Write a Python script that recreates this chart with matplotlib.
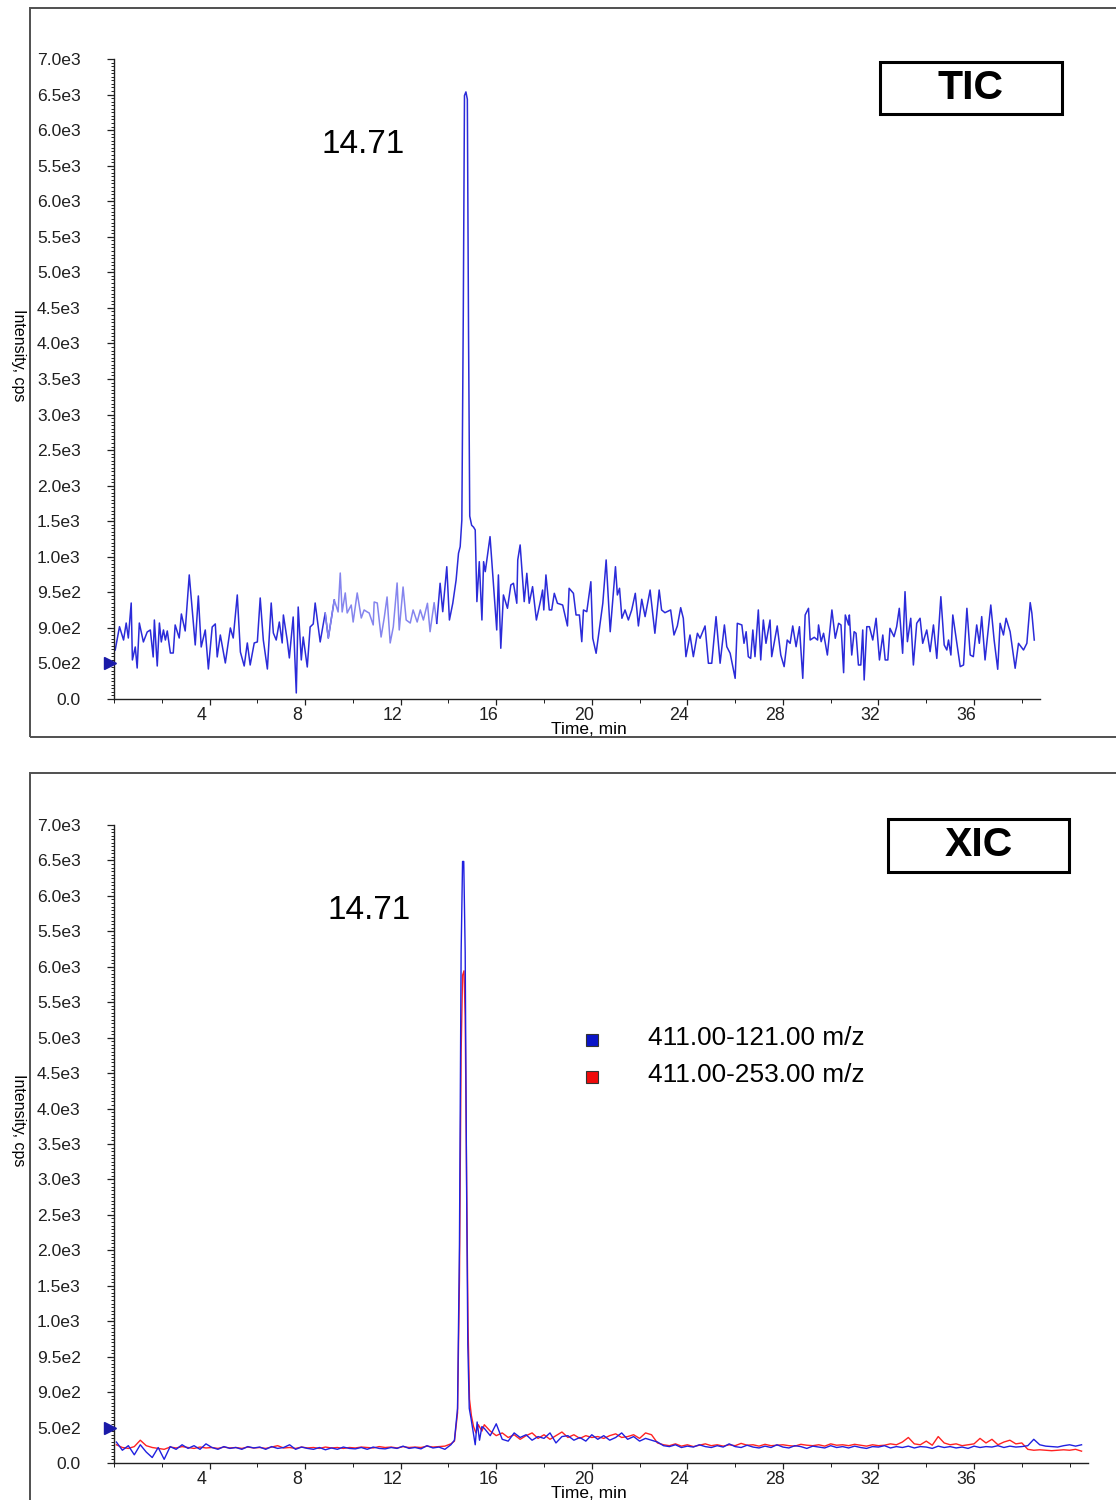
import matplotlib
matplotlib.use('Agg')
import matplotlib.pyplot as plt
import numpy as np
from matplotlib.patches import Rectangle
from matplotlib.ticker import MultipleLocator
from matplotlib.transforms import ScaledTranslation

plt.rcParams['font.family'] = ['Liberation Sans', 'DejaVu Sans']
NARROW = ['Liberation Sans Narrow', 'Liberation Sans', 'DejaVu Sans']

# y axis labels as printed on the instrument output (evenly spaced)
ytick_labels = ['0.0', '5.0e2', '9.0e2', '9.5e2', '1.0e3', '1.5e3', '2.0e3', '2.5e3',
                '3.0e3', '3.5e3', '4.0e3', '4.5e3', '5.0e3', '5.5e3', '6.0e3',
                '5.5e3', '6.0e3', '6.5e3', '7.0e3']
xticks = [4, 8, 12, 16, 20, 24, 28, 32, 36]
peak_rt = '14.71'
legend_labels = ['411.00-121.00 m/z', '411.00-253.00 m/z']

# ---- TIC trace (time, min / intensity in axis units)
tic_t = [0.05, 0.23, 0.40, 0.51, 0.60, 0.72, 0.77, 0.89, 0.97, 1.06,
         1.23, 1.39, 1.52, 1.64, 1.69, 1.81, 1.90, 1.98, 2.07, 2.15,
         2.23, 2.36, 2.48, 2.56, 2.73, 2.82, 2.98, 3.15, 3.40, 3.53,
         3.65, 3.82, 3.95, 4.11, 4.24, 4.32, 4.45, 4.66, 4.87, 4.99,
         5.16, 5.29, 5.45, 5.58, 5.70, 5.87, 6.00, 6.12, 6.25, 6.42,
         6.58, 6.67, 6.79, 6.92, 7.04, 7.09, 7.25, 7.34, 7.50, 7.63,
         7.71, 7.84, 7.92, 8.09, 8.21, 8.34, 8.42, 8.63, 8.84, 8.97,
         9.22, 9.38, 9.47, 9.55, 9.68, 9.76, 9.93, 10.01, 10.18, 10.35,
         10.47, 10.60, 10.68, 10.85, 10.89, 11.02, 11.18, 11.31, 11.43, 11.56,
         11.69, 11.85, 11.94, 12.10, 12.23, 12.40, 12.52, 12.69,
         12.82, 12.95, 13.12, 13.23, 13.40, 13.51, 13.65, 13.76, 13.93, 14.04,
         14.18, 14.32, 14.42, 14.49,
         14.56, 14.62, 14.67, 14.73, 14.79, 14.84, 14.89, 14.97, 15.05, 15.12,
         15.19, 15.29, 15.40, 15.47, 15.54, 15.74, 15.91, 16.02, 16.09, 16.19,
         16.30, 16.47, 16.61, 16.72, 16.86, 16.90, 17.00, 17.17, 17.28, 17.38,
         17.52, 17.68, 17.86, 17.94, 17.99, 18.08, 18.22, 18.32, 18.43, 18.56,
         18.78, 18.98, 19.05, 19.23, 19.34, 19.48, 19.58, 19.65, 19.79, 19.96,
         20.04, 20.18, 20.32, 20.46, 20.60, 20.77, 20.99, 21.07, 21.16, 21.26,
         21.39, 21.53, 21.67, 21.82, 21.95, 22.09, 22.23, 22.44, 22.64, 22.82,
         22.92, 23.06, 23.30, 23.44, 23.58, 23.72, 23.83, 23.94, 24.11, 24.25,
         24.42, 24.53, 24.74, 24.88, 25.02, 25.20, 25.37, 25.55, 25.65, 25.79,
         26.00,
         26.09, 26.28, 26.37, 26.46, 26.55, 26.65, 26.74, 26.83, 26.97, 27.07,
         27.18, 27.29, 27.46, 27.53, 27.76, 27.91, 28.05, 28.18, 28.30, 28.41,
         28.55, 28.69, 28.83, 28.93, 29.07, 29.14, 29.31, 29.45, 29.49, 29.60,
         29.70, 29.86, 30.05, 30.19, 30.33, 30.43, 30.54, 30.61, 30.75, 30.78,
         30.88, 30.98, 31.06, 31.16, 31.26, 31.34, 31.40, 31.51, 31.62, 31.76,
         31.90, 32.04, 32.18, 32.28, 32.39, 32.48, 32.65, 32.76, 32.87, 33.01,
         33.11, 33.21, 33.35, 33.46, 33.60, 33.74, 33.85, 34.02, 34.16, 34.30,
         34.44, 34.61, 34.75, 34.86, 34.93, 35.03, 35.11, 35.28, 35.42, 35.56,
         35.70, 35.84, 35.97, 36.11, 36.22, 36.32, 36.46, 36.70, 36.84, 36.99,
         37.09, 37.23, 37.34, 37.51, 37.72, 37.86, 38.07, 38.21, 38.35, 38.42,
         38.52]
tic_i = [536, 791, 645, 831, 667, 1050, 427, 569, 339, 831,
         624, 733, 755, 460, 864, 361, 831, 624, 755, 645,
         744, 503, 503, 810, 667, 930, 744, 1357, 591, 1127,
         569, 755, 328, 788, 821, 460, 700, 394, 777, 667,
         1138, 514, 361, 613, 372, 613, 624, 1105, 645, 328,
         1050, 722, 645, 842, 613, 919, 645, 449, 897, 66,
         1006, 427, 678, 350, 788, 821, 1050, 624, 941, 667,
         1083, 952, 1378, 952, 1160, 941, 1028, 842, 1160, 886,
         974, 952, 941, 810, 1061, 1050, 678, 886, 1116, 613,
         788, 1269, 755, 1225, 864, 831, 974, 842,
         974, 864, 1047, 736, 1054, 828, 1266, 955, 1447, 864,
         1047, 1302, 1594, 1666,
         1958, 4200, 6600, 6640, 6560, 4000, 2000, 1900, 1880, 1849,
         1065, 1502, 864, 1502, 1393, 1776, 1156, 755, 1357, 555,
         1138, 992, 1247, 1266, 1047, 1521, 1685, 1065, 1375, 1047,
         1229, 864, 1083, 1192, 974, 1357, 974, 974, 1156, 1047,
         1028, 799, 1211, 1156, 919, 919, 627, 974, 955, 1283,
         664, 500, 773, 1047, 1521, 736, 1447, 1138, 1211, 883,
         974, 864, 974, 1156, 799, 1091, 901, 1192, 719, 1192,
         974, 944, 974, 700, 799, 999, 883, 463, 700, 463,
         719, 664, 799, 391, 391, 901, 391, 810, 572, 500,
         226,
         828, 810, 609, 736, 463, 444, 755, 463, 974, 427,
         864, 609, 864, 463, 799, 481, 354, 645, 609, 799,
         572, 791, 226, 919, 992, 645, 675, 645, 810, 627,
         719, 481, 974, 664, 828, 810, 288, 919, 810, 919,
         481, 736, 719, 372, 372, 755, 208, 791, 791, 645,
         883, 427, 700, 427, 427, 773, 682, 791, 992, 500,
         1174, 627, 883, 372, 828, 883, 609, 755, 518, 810,
         444, 1119, 591, 536, 645, 481, 919, 609, 354, 372,
         992, 481, 463, 810, 609, 901, 427, 1028, 645, 325,
         828, 700, 883, 736, 336, 609, 536, 609, 1054, 938,
         645]
tic_light = (9.0, 13.45)   # part of the trace drawn in a paler blue

# ---- XIC traces: baseline before the peak, the peak itself, baseline after
scan_step = 0.25
pre_start, post_start = 0.1, 15.5
blue_pre = [230, 140, 190, 90, 200, 120, 60, 170, 40, 180,
            150, 200, 160, 190, 150, 210, 170, 150, 180, 160,
            170, 150, 180, 165, 175, 150, 180, 160, 170, 200,
            150, 175, 160, 150, 170, 145, 165, 150, 175, 160,
            155, 170, 150, 175, 160, 155, 170, 160, 185, 160,
            170, 155, 190, 165, 175, 150, 200]
red_pre = [200, 170, 160, 180, 250, 190, 170, 160, 150, 175,
           165, 180, 170, 160, 175, 165, 170, 160, 175, 165,
           170, 160, 175, 165, 170, 160, 175, 190, 165, 170,
           160, 175, 165, 170, 160, 175, 165, 170, 160, 170,
           165, 175, 170, 165, 180, 170, 175, 165, 180, 170,
           175, 170, 185, 175, 180, 185, 210]
blue_peak_t = [14.25, 14.38, 14.46, 14.53, 14.59, 14.64, 14.70, 14.76, 14.81, 14.87,
               14.95, 15.04, 15.12, 15.20, 15.30, 15.40]
blue_peak_i = [250, 600, 2400, 5600, 6600, 6600, 5600, 3000, 1300, 600,
               480, 330, 200, 450, 250, 400]
red_peak_t = [14.25, 14.38, 14.46, 14.53, 14.59, 14.65, 14.70, 14.76, 14.82, 14.88,
              14.96, 15.05, 15.15, 15.25, 15.40]
red_peak_i = [240, 550, 2000, 4500, 5350, 5400, 4900, 3100, 1500, 700,
              520, 400, 330, 420, 350]
blue_post = [380, 300, 430, 260, 240, 330, 280, 310, 250, 290,
             270, 330, 220, 290, 300, 250, 280, 240, 310, 260,
             300, 250, 280, 330, 260, 290, 240, 270, 250, 230,
             190, 180, 200, 170, 185, 175, 200, 180, 170, 190,
             175, 210, 180, 170, 195, 175, 165, 185, 170, 200,
             175, 165, 190, 180, 160, 185, 175, 165, 190, 170,
             180, 165, 185, 170, 160, 180, 175, 190, 165, 180,
             170, 185, 165, 180, 175, 160, 185, 170, 180, 165,
             175, 160, 185, 170, 180, 175, 190, 170, 185, 175,
             180, 190, 260, 200, 185, 180, 175, 190, 200, 185,
             200]
red_post = [420, 350, 300, 330, 280, 310, 260, 300, 330, 270,
            310, 260, 300, 340, 280, 310, 270, 300, 280, 290,
            270, 300, 320, 280, 290, 310, 270, 330, 310, 220,
            200, 190, 210, 185, 200, 180, 195, 210, 190, 200,
            185, 200, 190, 215, 195, 200, 185, 205, 190, 195,
            200, 190, 185, 205, 195, 190, 200, 185, 210, 195,
            200, 190, 205, 195, 185, 200, 190, 195, 210, 200,
            230, 280, 210, 200, 240, 195, 290, 220, 200, 210,
            190, 200, 210, 270, 220, 260, 200, 230, 250, 210,
            220, 150, 140, 145, 140, 135, 140, 145, 140, 150,
            130]


def join_xic(pre, peak_t, peak_i, post):
    t_pre = pre_start + scan_step * np.arange(len(pre))
    t_post = post_start + scan_step * np.arange(len(post))
    t = np.concatenate([t_pre, peak_t, t_post])
    v = np.concatenate([pre, peak_i, post])
    return t, v


W, H = 1116, 1500
fig = plt.figure(figsize=(W / 100, H / 100), dpi=100)

YMAX = 7000
ytick_pos = np.linspace(0, YMAX, len(ytick_labels))
FRAME = '#505050'
AXC = '#202020'


def style_axes(ax, xmax):
    ax.set_xlim(0, xmax)
    ax.set_ylim(0, YMAX)
    for s in ['top', 'right']:
        ax.spines[s].set_visible(False)
    for s in ['left', 'bottom']:
        ax.spines[s].set_color(AXC)
        ax.spines[s].set_linewidth(1.0)
    ax.set_yticks(ytick_pos)
    ax.set_yticklabels(ytick_labels)
    ax.yaxis.set_minor_locator(MultipleLocator(YMAX / 18 / 10))
    ax.set_xticks(xticks)
    ax.set_xticklabels([str(x) for x in xticks])
    ax.xaxis.set_minor_locator(MultipleLocator(2))
    ax.tick_params(axis='y', which='major', length=5, width=0.9, pad=19,
                   labelsize=12.6, colors=AXC)
    ax.tick_params(axis='y', which='minor', length=2.5, width=0.7, colors=AXC)
    ax.tick_params(axis='x', which='major', length=4, width=0.9, pad=2,
                   labelsize=12.8, colors=AXC)
    ax.tick_params(axis='x', which='minor', length=3, width=0.7, colors=AXC)
    shift = ScaledTranslation(-8 / 100, 0, fig.dpi_scale_trans)
    for lab in ax.get_xticklabels():
        lab.set_transform(lab.get_transform() + shift)
    # marker on the y axis
    ax.plot([-0.15], [ytick_pos[1]], marker='>', ms=8, color='#1a1aa8',
            clip_on=False, zorder=5)


def frame(y_top, y_bot):
    fig.add_artist(Rectangle((30 / W, 1 - y_bot / H), 1.2, (y_bot - y_top) / H,
                             transform=fig.transFigure, fill=False,
                             ec=FRAME, lw=1.4))


def title_box(x0, y0, x1, y1, txt):
    fig.add_artist(Rectangle((x0 / W, 1 - y1 / H), (x1 - x0) / W, (y1 - y0) / H,
                             transform=fig.transFigure, fill=False,
                             ec='black', lw=2.2))
    fig.text((x0 + x1) / 2 / W, 1 - (y0 + y1) / 2 / H, txt, ha='center',
             va='center', fontsize=29.5, fontweight='bold')


# ---------------- TIC panel
frame(8, 737)
ax1 = fig.add_axes([114 / W, 1 - 699 / H, (1040 - 114) / W, (699 - 59) / H])
style_axes(ax1, 38.76)
tt = np.array(tic_t)
ti = np.array(tic_i)
dark1 = tt <= tic_light[0] + 0.25
mid = (tt >= tic_light[0] - 0.3) & (tt <= tic_light[1] + 0.15)
dark2 = tt >= tic_light[1]
ax1.plot(tt[dark1], ti[dark1], color='#2b2bd9', lw=1.1)
ax1.plot(tt[mid], ti[mid], color='#8585ee', lw=1.1)
ax1.plot(tt[dark2], ti[dark2], color='#2b2bd9', lw=1.1)
ax1.text(10.43, 6060, peak_rt, fontsize=24, ha='center', va='center')
title_box(880, 62, 1062, 114, 'TIC')
fig.text(589 / W, 1 - 729 / H, 'Time, min', ha='center', va='center',
         fontsize=12.5, family=NARROW)
fig.text(18 / W, 1 - 355 / H, 'Intensity, cps', ha='center', va='center',
         rotation=270, fontsize=11.5, family=NARROW)

# ---------------- XIC panel
frame(773, 1520)
ax2 = fig.add_axes([114 / W, 1 - 1463 / H, (1088 - 114) / W, (1463 - 825) / H])
style_axes(ax2, 40.77)
rt, rv = join_xic(red_pre, red_peak_t, red_peak_i, red_post)
bt, bv = join_xic(blue_pre, blue_peak_t, blue_peak_i, blue_post)
ax2.plot(rt, rv, color='#ff2222', lw=1.0)
ax2.plot(bt, bv, color='#2020e0', lw=1.0)
ax2.text(10.68, 6065, peak_rt, fontsize=24, ha='center', va='center')
ax2.plot([20.01], [4640], marker='s', ms=8, mfc='#0a14c8', mec='#333333',
         mew=0.8, ls='none')
ax2.plot([20.01], [4235], marker='s', ms=8, mfc='#f00a0a', mec='#333333',
         mew=0.8, ls='none')
ax2.text(22.36, 4665, legend_labels[0], fontsize=18.9, ha='left', va='center')
ax2.text(22.36, 4258, legend_labels[1], fontsize=18.9, ha='left', va='center')
title_box(888, 819, 1069, 872, 'XIC')
fig.text(589 / W, 1 - 1493 / H, 'Time, min', ha='center', va='center',
         fontsize=12.5, family=NARROW)
fig.text(18 / W, 1 - 1120 / H, 'Intensity, cps', ha='center', va='center',
         rotation=270, fontsize=11.5, family=NARROW)

fig.savefig('out.png', dpi=100)
